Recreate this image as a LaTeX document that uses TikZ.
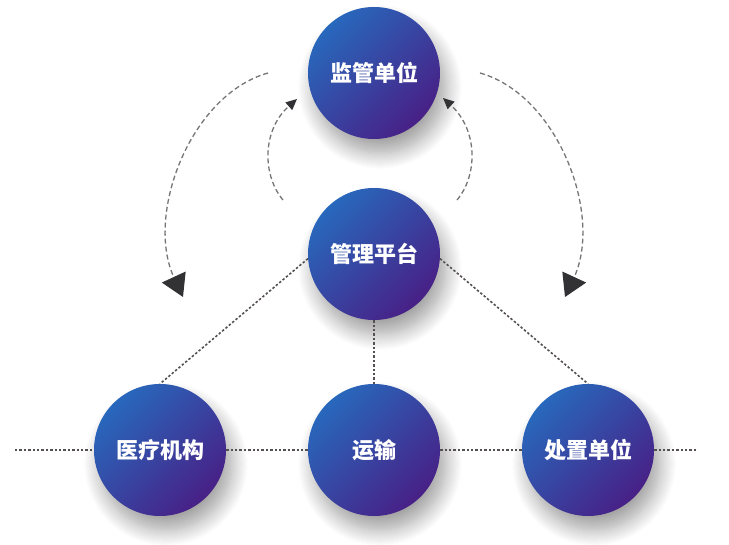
\documentclass[tikz,border=0pt]{standalone}
\usepackage{fontspec}
\newfontfamily\cjk{Noto Sans CJK SC}
\usetikzlibrary{arrows.meta,shadows.blur}
\definecolor{cblue}{RGB}{40,104,188}
\definecolor{cmid}{RGB}{76,52,150}
\definecolor{cpurple}{RGB}{72,32,134}
\definecolor{dashgray}{RGB}{120,116,116}
\definecolor{dotgray}{RGB}{85,80,80}
\definecolor{tipgray}{RGB}{50,50,52}
\tikzset{
  ball/.style={circle, minimum size=132pt, inner sep=0pt,
    top color=cblue, middle color=cmid, bottom color=cpurple, shading angle=45,
    blur shadow={shadow xshift=6pt, shadow yshift=-14pt, shadow blur radius=16pt, shadow blur steps=16, shadow opacity=38},
    text=white, font=\cjk\bfseries\fontsize{22}{26}\selectfont},
  dotline/.style={draw=dotgray, line width=1.6pt, dash pattern=on 2.4pt off 2pt},
  dashline/.style={draw=dashgray, line width=1.3pt, dash pattern=on 5pt off 3pt},
  bigtip/.style={-{Triangle[length=22pt,width=26pt,fill=tipgray,color=tipgray]}},
  smalltip/.style={-{Triangle[length=11pt,width=10pt,fill=tipgray,color=tipgray]}}
}
\begin{document}
\begin{tikzpicture}[x=1pt,y=-1pt]
\useasboundingbox (0,0) rectangle (729,545);
\coordinate (hl) at (15,450);
\coordinate (hr) at (697,450);
\node[ball] (top) at (374,73) {监管单位};
\node[ball] (mid) at (374,254) {管理平台};
\node[ball] (bl) at (160,450) {医疗机构};
\node[ball] (bc) at (374,450) {运输};
\node[ball] (br) at (588,450) {处置单位};
\draw[dotline] (hl) -- (bl.west);
\draw[dotline] (bl.east) -- (bc.west);
\draw[dotline] (bc.east) -- (br.west);
\draw[dotline] (br.east) -- (hr);
\draw[dotline] (mid.184) -- (bl.north);
\draw[dotline] (mid.356) -- (br.north);
\draw[dotline] (mid.south) -- (bc.north);
\coordinate (lo1) at (268,73);
\coordinate (lo2) at (183,297);
\coordinate (ro1) at (480,73);
\coordinate (ro2) at (565,297);
\coordinate (li1) at (283,200);
\coordinate (li2) at (297,99);
\coordinate (ri1) at (457,200);
\coordinate (ri2) at (443,98);
\draw[dashline,bigtip] (lo1) .. controls (190,95) and (145,215) .. (lo2);
\draw[dashline,bigtip] (ro1) .. controls (558,95) and (603,215) .. (ro2);
\draw[dashline,smalltip] (li1) .. controls (262,175) and (262,130) .. (li2);
\draw[dashline,smalltip] (ri1) .. controls (478,175) and (478,130) .. (ri2);
\end{tikzpicture}
\end{document}
